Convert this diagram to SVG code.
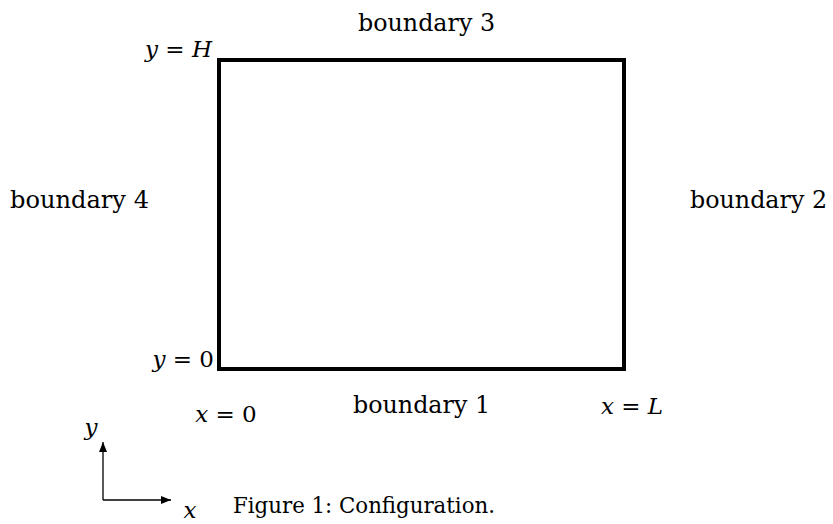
<svg xmlns="http://www.w3.org/2000/svg" width="833" height="524" viewBox="0 0 833 524">
<style>
.t{font-family:"DejaVu Serif","Liberation Serif",serif;font-size:24px;fill:#000}
.c{font-family:"DejaVu Serif","Liberation Serif",serif;font-size:21.5px;fill:#000}
.m{font-family:"DejaVu Serif","Liberation Serif",serif;font-size:23px;fill:#000}
.i{font-style:italic}
</style>
<defs>
<marker id="ah" markerWidth="10" markerHeight="8" refX="10" refY="4" orient="auto" markerUnits="userSpaceOnUse">
<path d="M0,0 L10,4 L0,8 Z" fill="#000"/>
</marker>
</defs>
<rect width="833" height="524" fill="#fff"/>
<g id="domain">
<rect x="219" y="60" width="405" height="309" fill="none" stroke="#000" stroke-width="4"/>
</g>
<g id="labels">
<text class="t" x="358" y="31" textLength="137" lengthAdjust="spacingAndGlyphs">boundary 3</text>
<text class="t" x="10" y="208" textLength="139" lengthAdjust="spacingAndGlyphs">boundary 4</text>
<text class="t" x="690" y="208" textLength="137" lengthAdjust="spacingAndGlyphs">boundary 2</text>
<text class="t" x="353" y="413" textLength="137" lengthAdjust="spacingAndGlyphs">boundary 1</text>
<text class="m" x="212" y="57" text-anchor="end"><tspan class="i">y</tspan> = <tspan class="i">H</tspan></text>
<text class="m" x="214" y="367" text-anchor="end"><tspan class="i">y</tspan> = 0</text>
<text class="m" x="226" y="422" text-anchor="middle"><tspan class="i">x</tspan> = 0</text>
<text class="m" x="632" y="414" text-anchor="middle"><tspan class="i">x</tspan> = <tspan class="i">L</tspan></text>
<text class="m i" x="91" y="435" text-anchor="middle">y</text>
<text class="m i" x="190" y="518" text-anchor="middle">x</text>
<text class="c" x="233" y="513" textLength="262" lengthAdjust="spacingAndGlyphs">Figure 1: Configuration.</text>
</g>
<g id="connectors">
<line x1="103" y1="500" x2="103" y2="442" stroke="#000" stroke-width="1.3" marker-end="url(#ah)"/>
<line x1="103" y1="500" x2="171" y2="500" stroke="#000" stroke-width="1.3" marker-end="url(#ah)"/>
</g>
</svg>
